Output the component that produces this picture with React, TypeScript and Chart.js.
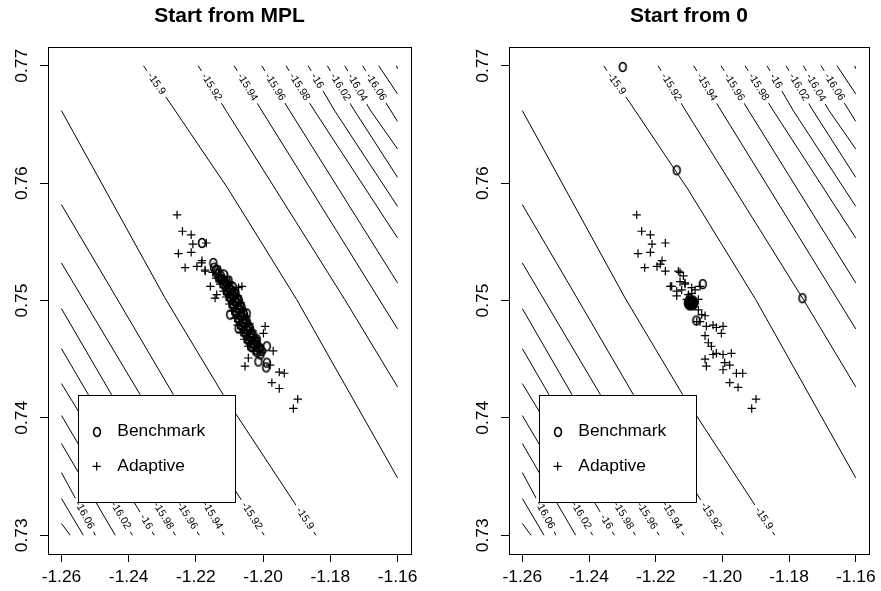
import { useEffect, useRef } from "react";
import { Chart, registerables } from "chart.js";

Chart.register(...registerables);

// ---------------- data ----------------
const panelTitles = ["Start from MPL", "Start from 0"];
const legendLabels = ["Benchmark", "Adaptive"];

const xTickValues = [-1.26, -1.24, -1.22, -1.2, -1.18, -1.16];
const xTickLabels = ["-1.26", "-1.24", "-1.22", "-1.20", "-1.18", "-1.16"];
const yTickValues = [0.73, 0.74, 0.75, 0.76, 0.77];
const yTickLabels = ["0.73", "0.74", "0.75", "0.76", "0.77"];
const xRange = [-1.264, -1.156];
const yRange = [0.7284, 0.7716];

// contour lines: upper-right family (start on top edge)
const upperLevels = ["-15.9", "-15.92", "-15.94", "-15.96", "-15.98", "-16", "-16.02", "-16.04", "-16.06", "-16.08", "-16.1"];
const upperLabeled = [true, true, true, true, true, true, true, true, true, false, false];
const upperPathsX = [
  [-1.2356, -1.2277, -1.2104, -1.19, -1.16],
  [-1.2193, -1.2109, -1.1757, -1.16],
  [-1.2086, -1.2009, -1.16],
  [-1.2004, -1.192, -1.16],
  [-1.1932, -1.1846, -1.16],
  [-1.1866, -1.1786, -1.16],
  [-1.1809, -1.173, -1.16],
  [-1.1757, -1.1682, -1.16],
  [-1.1704, -1.16],
  [-1.1656, -1.16],
  [-1.1603, -1.16],
];
const upperPathsY = [
  [0.77, 0.76683, 0.75951, 0.75008, 0.73489],
  [0.77, 0.76612, 0.75008, 0.74264],
  [0.77, 0.76641, 0.74758],
  [0.77, 0.76612, 0.7515],
  [0.77, 0.76612, 0.75533],
  [0.77, 0.76612, 0.75802],
  [0.77, 0.76626, 0.76049],
  [0.77, 0.76626, 0.76291],
  [0.77, 0.76526],
  [0.77, 0.7676],
  [0.77, 0.76975],
];

// contour lines: lower-left family (start on left edge)
const lowerLevels = ["-15.9", "-15.92", "-15.94", "-15.96", "-15.98", "-16", "-16.02", "-16.04", "-16.06", "-16.08", "-16.1"];
const lowerLabeled = [true, true, true, true, true, true, true, false, true, false, false];
const lowerPathsX = [
  [-1.26, -1.2292, -1.2119, -1.191, -1.1843],
  [-1.26, -1.2436, -1.2267, -1.1997],
  [-1.26, -1.2366, -1.2116],
  [-1.26, -1.2451, -1.219],
  [-1.26, -1.252, -1.2261],
  [-1.26, -1.2324],
  [-1.26, -1.2389],
  [-1.26, -1.244],
  [-1.26, -1.2499],
  [-1.26, -1.2535],
  [-1.26, -1.2574],
];
const lowerPathsY = [
  [0.76618, 0.75022, 0.74198, 0.7329, 0.73],
  [0.75817, 0.75022, 0.74198, 0.73],
  [0.7532, 0.74198, 0.73],
  [0.74931, 0.74198, 0.73],
  [0.7459, 0.74198, 0.73],
  [0.74292, 0.73],
  [0.7402, 0.73],
  [0.73781, 0.73],
  [0.73534, 0.73],
  [0.73313, 0.73],
  [0.731, 0.73],
];

// left panel: Start from MPL
const mplBenchX = [
  -1.2182, -1.2148, -1.2141, -1.1989, -1.2004, -1.2014, -1.1989, -1.1991, -1.2098, -1.2073, -1.2049, -1.2019,
  -1.2146, -1.2136,
  -1.2137, -1.2126, -1.2116,
  -1.2125, -1.2113, -1.2103,
  -1.2112, -1.21, -1.2089,
  -1.2104, -1.2093, -1.2082,
  -1.2095, -1.2083, -1.2072,
  -1.2087, -1.2075, -1.2064,
  -1.2079, -1.2068, -1.2057,
  -1.2071, -1.206, -1.2049,
  -1.2061, -1.205, -1.2039,
  -1.2051, -1.204, -1.2029,
  -1.2041, -1.203, -1.2019,
  -1.2031, -1.202, -1.2009,
  -1.2018, -1.2008,
  -1.2131, -1.212,
  -1.2118, -1.2106,
  -1.2108, -1.2096, -1.2086,
  -1.2099, -1.2088, -1.2077,
  -1.2091, -1.2079, -1.2068,
  -1.2083, -1.2071, -1.206,
  -1.2075, -1.2064, -1.2053,
  -1.2066, -1.2055, -1.2044,
  -1.2056, -1.2045, -1.2034,
  -1.2046, -1.2035, -1.2024,
  -1.2036, -1.2025, -1.2014,
];
const mplBenchY = [
  0.7549, 0.7532, 0.7526, 0.7461, 0.7457, 0.7448, 0.7447, 0.7443, 0.7488, 0.7476, 0.7489, 0.7467,
  0.7528, 0.7526,
  0.7523, 0.7521, 0.7522,
  0.7518, 0.7516, 0.7517,
  0.7512, 0.751, 0.7511,
  0.7507, 0.7505, 0.7506,
  0.7501, 0.7499, 0.75,
  0.7495, 0.7493, 0.7494,
  0.7489, 0.7487, 0.7488,
  0.7483, 0.7481, 0.7482,
  0.7477, 0.7475, 0.7476,
  0.7471, 0.7469, 0.747,
  0.7465, 0.7463, 0.7464,
  0.746, 0.7458, 0.7459,
  0.7456, 0.7454,
  0.7519, 0.7518,
  0.7514, 0.7513,
  0.7508, 0.7509, 0.7507,
  0.7503, 0.7504, 0.7502,
  0.7497, 0.7498, 0.7496,
  0.7491, 0.7492, 0.749,
  0.7485, 0.7486, 0.7484,
  0.7479, 0.748, 0.7478,
  0.7473, 0.7474, 0.7472,
  0.7467, 0.7468, 0.7466,
  0.7461, 0.7462, 0.746,
];
const mplAdaptX = [
  -1.2256, -1.224, -1.2214, -1.2209, -1.2169, -1.2252, -1.2214, -1.2232, -1.2197, -1.2182, -1.2172, -1.2183,
  -1.2173, -1.2157, -1.2143, -1.2138, -1.2073, -1.2063, -1.1994, -1.1999, -1.197, -1.2044, -1.2054, -1.1979,
  -1.1952, -1.1937, -1.1974, -1.1952, -1.1897, -1.191,
  -1.215, -1.2128,
  -1.214, -1.2119, -1.2106,
  -1.2128, -1.2108, -1.2095,
  -1.2118, -1.2098, -1.2084,
  -1.211, -1.2088, -1.2075,
  -1.2101, -1.208, -1.2066,
  -1.2093, -1.2071, -1.2058,
  -1.2085, -1.2063, -1.205,
  -1.2076, -1.2054, -1.204,
  -1.2066, -1.2045, -1.203,
  -1.2056, -1.2035, -1.2021,
  -1.2045, -1.2025, -1.2012,
  -1.203, -1.2003,
  -1.2133,
  -1.2123, -1.21,
  -1.2113, -1.2091,
  -1.2104, -1.2081,
  -1.2096, -1.2072,
  -1.2087, -1.2063,
  -1.2079, -1.2056,
  -1.207, -1.2046,
  -1.2061, -1.2035,
  -1.205, -1.2026,
  -1.204, -1.2017,
];
const mplAdaptY = [
  0.7573, 0.7559, 0.7556, 0.7548, 0.7549, 0.754, 0.7541, 0.7528, 0.7529, 0.7534, 0.7525, 0.7532,
  0.7526, 0.7512, 0.7502, 0.7505, 0.7511, 0.7512, 0.7478, 0.7472, 0.7457, 0.7451, 0.7444, 0.7445,
  0.7439, 0.7438, 0.743, 0.7425, 0.7416, 0.7408,
  0.7524, 0.7526,
  0.7519, 0.7518, 0.752,
  0.7514, 0.7513, 0.7515,
  0.7508, 0.7507, 0.7509,
  0.7503, 0.7502, 0.7504,
  0.7497, 0.7496, 0.7498,
  0.7491, 0.749, 0.7492,
  0.7485, 0.7484, 0.7486,
  0.7479, 0.7478, 0.748,
  0.7473, 0.7472, 0.7474,
  0.7467, 0.7466, 0.7468,
  0.7461, 0.746, 0.7462,
  0.7457, 0.7456,
  0.7522,
  0.7517, 0.7516,
  0.7511, 0.751,
  0.7505, 0.7504,
  0.75, 0.7499,
  0.7494, 0.7493,
  0.7488, 0.7487,
  0.7482, 0.7481,
  0.7476, 0.7475,
  0.747, 0.7469,
  0.7464, 0.7463,
];

// right panel: Start from 0
const zeroBenchX = [
  -1.2299, -1.2137, -1.176, -1.2059, -1.2078,
  -1.2094, -1.2103, -1.2085, -1.2099, -1.2089, -1.2099, -1.2089, -1.2094, -1.2094, -1.2102, -1.2086,
  -1.2102, -1.2086, -1.2097, -1.2091, -1.2097, -1.2091,
];
const zeroBenchY = [
  0.7699, 0.7611, 0.7502, 0.7514, 0.7483,
  0.7498, 0.7498, 0.7498, 0.75, 0.75, 0.7496, 0.7496, 0.75, 0.7496, 0.7499, 0.7499,
  0.7497, 0.7497, 0.7498, 0.7498, 0.7497, 0.7499,
];
const zeroAdaptX = [
  -1.2257, -1.2242, -1.2216, -1.2211, -1.2171, -1.2253, -1.2216, -1.2233, -1.2196, -1.2181, -1.2186, -1.2171,
  -1.2132, -1.2117, -1.2127, -1.2112, -1.2156, -1.2137, -1.2137, -1.2122, -1.2092, -1.2102, -1.2127, -1.2152,
  -1.2112, -1.2082, -1.2067, -1.2092, -1.2072, -1.2062, -1.2052, -1.2077, -1.2067, -1.2048, -1.2028, -1.2018,
  -1.1998, -1.2003, -1.2052, -1.2042, -1.2033, -1.2018, -1.2028, -1.1998, -1.1973, -1.1993, -1.1978, -1.2052,
  -1.2048, -1.1998, -1.1958, -1.1939, -1.1978, -1.1953, -1.1899, -1.1912, -1.2082, -1.2072, -1.2107,
];
const zeroAdaptY = [
  0.7573, 0.7559, 0.7556, 0.7548, 0.7549, 0.754, 0.7541, 0.7528, 0.7529, 0.7534, 0.7531, 0.7525,
  0.7525, 0.7521, 0.7516, 0.7515, 0.7512, 0.7508, 0.7504, 0.7509, 0.7511, 0.7505, 0.7524, 0.7512,
  0.7514, 0.7509, 0.7512, 0.7506, 0.7492, 0.7488, 0.7487, 0.7482, 0.7482, 0.7478, 0.7479, 0.7477,
  0.7478, 0.7472, 0.747, 0.7464, 0.7461, 0.7455, 0.7454, 0.7454, 0.7455, 0.7447, 0.7445, 0.745,
  0.7444, 0.7441, 0.7438, 0.7438, 0.743, 0.7426, 0.7416, 0.7408, 0.7497, 0.7501, 0.7501,
];

// ---------------- styling / layout ----------------
const FONT = '"Liberation Sans", Arial, Helvetica, sans-serif';
const AXIS_FONT = 17.4;
const TITLE_FONT = 21;
const LABEL_FONT = 10.6;
const CANVAS_H = 591;
const panelLayout = [
  { left: 0, width: 440, yAxisWidth: 48, rightPad: 29 },
  { left: 440, width: 441, yAxisWidth: 69, rightPad: 9 },
];
const LEGEND = { dx: 30.3, dy: 348, w: 157.4, h: 107.3, symDx: 48.7, textDx: 69.3, row1: 383.8, row2: 419.3 };
const FIRST_CONTOUR = 2;
const GLYPH_W = 12;
const GLYPH_H = 14;

// "o" plotting character, rendered at 4x and shown at glyph size
function makeOImage(): HTMLImageElement {
  const S = 4;
  const c = document.createElement("canvas");
  c.width = GLYPH_W * S;
  c.height = GLYPH_H * S;
  const g = c.getContext("2d")!;
  g.strokeStyle = "#000";
  g.lineWidth = 1.6 * S;
  g.beginPath();
  g.ellipse((GLYPH_W / 2) * S, (GLYPH_H / 2) * S, 3.4 * S, 4.4 * S, 0, 0, Math.PI * 2);
  g.stroke();
  const img = new Image(GLYPH_W, GLYPH_H);
  img.src = c.toDataURL();
  return img;
}

function drawContourLabels(chart: any) {
  const ctx = chart.ctx;
  const xs = chart.scales.x;
  const ys = chart.scales.y;
  const a = chart.chartArea;
  ctx.save();
  ctx.beginPath();
  ctx.rect(a.left, a.top, a.right - a.left, a.bottom - a.top);
  ctx.clip();
  ctx.font = `${LABEL_FONT}px ${FONT}`;
  const fams = [
    { levels: upperLevels, px: upperPathsX, py: upperPathsY, labeled: upperLabeled, fromStart: true },
    { levels: lowerLevels, px: lowerPathsX, py: lowerPathsY, labeled: lowerLabeled, fromStart: false },
  ];
  for (const f of fams) {
    for (let i = 0; i < f.levels.length; i++) {
      if (!f.labeled[i]) continue;
      const pts = f.px[i].map((x: number, k: number) => [xs.getPixelForValue(x), ys.getPixelForValue(f.py[i][k])]);
      const text = f.levels[i];
      const w = ctx.measureText(text).width;
      const segs: number[] = [];
      let L = 0;
      for (let k = 1; k < pts.length; k++) {
        const d = Math.hypot(pts[k][0] - pts[k - 1][0], pts[k][1] - pts[k - 1][1]);
        segs.push(d);
        L += d;
      }
      let target = f.fromStart ? 10 + w / 2 : L - 8 - w / 2;
      if (target < 0) target = 0;
      let k = 0;
      while (k < segs.length - 1 && target > segs[k]) {
        target -= segs[k];
        k++;
      }
      const p0 = pts[k];
      const p1 = pts[k + 1];
      const t = Math.min(1, target / segs[k]);
      const cx = p0[0] + (p1[0] - p0[0]) * t;
      const cy = p0[1] + (p1[1] - p0[1]) * t;
      const ang = Math.atan2(p1[1] - p0[1], p1[0] - p0[0]);
      ctx.save();
      ctx.translate(cx, cy);
      ctx.rotate(ang);
      ctx.fillStyle = "#fff";
      ctx.fillRect(-w / 2 - 4, -5, w + 8, 10);
      ctx.fillStyle = "#000";
      ctx.textAlign = "center";
      ctx.textBaseline = "middle";
      ctx.fillText(text, 0, 0);
      ctx.restore();
    }
  }
  ctx.restore();
}

function drawLegend(chart: any, oImg: HTMLImageElement) {
  const ctx = chart.ctx;
  const a = chart.chartArea;
  const x0 = a.left + LEGEND.dx;
  const y0 = a.top + LEGEND.dy;
  ctx.save();
  ctx.fillStyle = "#fff";
  ctx.fillRect(x0, y0, LEGEND.w, LEGEND.h);
  ctx.strokeStyle = "#000";
  ctx.lineWidth = 1;
  ctx.strokeRect(Math.round(x0) + 0.5, Math.round(y0) + 0.5, Math.round(LEGEND.w), Math.round(LEGEND.h));
  const sx = a.left + LEGEND.symDx;
  const r1 = a.top + LEGEND.row1;
  const r2 = a.top + LEGEND.row2;
  ctx.drawImage(oImg, Math.round(sx - GLYPH_W / 2), Math.round(r1 - GLYPH_H / 2 + 1), GLYPH_W, GLYPH_H);
  ctx.lineWidth = 1.2;
  ctx.beginPath();
  ctx.moveTo(sx - 4.2, r2);
  ctx.lineTo(sx + 4.2, r2);
  ctx.moveTo(sx, r2 - 4.2);
  ctx.lineTo(sx, r2 + 4.2);
  ctx.stroke();
  ctx.fillStyle = "#000";
  ctx.font = `${AXIS_FONT}px ${FONT}`;
  ctx.textAlign = "left";
  ctx.textBaseline = "middle";
  ctx.fillText(legendLabels[0], a.left + LEGEND.textDx, r1);
  ctx.fillText(legendLabels[1], a.left + LEGEND.textDx, r2);
  ctx.restore();
}

function makeExtras(oImg: HTMLImageElement) {
  return {
    id: "rExtras",
    afterDatasetDraw(chart: any, args: any) {
      if (args.index === FIRST_CONTOUR) drawContourLabels(chart);
    },
    afterDatasetsDraw(chart: any) {
      drawLegend(chart, oImg);
    },
    afterDraw(chart: any) {
      const a = chart.chartArea;
      const ctx = chart.ctx;
      ctx.save();
      ctx.strokeStyle = "#000";
      ctx.lineWidth = 1;
      const l = Math.round(a.left) + 0.5;
      const t = Math.round(a.top) + 0.5;
      const r = Math.round(a.right) + 0.5;
      const b = Math.round(a.bottom) + 0.5;
      ctx.strokeRect(l, t, r - l, b - t);
      ctx.restore();
    },
  };
}

function toPts(xs: number[], ys: number[]) {
  return xs.map((x, i) => ({ x, y: ys[i] }));
}

function makeChart(canvas: HTMLCanvasElement, idx: number, oImg: HTMLImageElement) {
  const lay = panelLayout[idx];
  const bx = idx === 0 ? mplBenchX : zeroBenchX;
  const by = idx === 0 ? mplBenchY : zeroBenchY;
  const ax = idx === 0 ? mplAdaptX : zeroAdaptX;
  const ay = idx === 0 ? mplAdaptY : zeroAdaptY;

  const contourSets: any[] = [];
  const addFam = (px: number[][], py: number[][]) => {
    px.forEach((xs, i) => {
      contourSets.push({
        data: toPts(xs, py[i]),
        showLine: true,
        pointRadius: 0,
        borderColor: "#000",
        borderWidth: 1,
        tension: 0,
        fill: false,
      });
    });
  };
  addFam(upperPathsX, upperPathsY);
  addFam(lowerPathsX, lowerPathsY);

  const datasets: any[] = [
    {
      label: legendLabels[0],
      data: toPts(bx, by),
      pointStyle: oImg,
      pointRadius: 4,
      showLine: false,
    },
    {
      label: legendLabels[1],
      data: toPts(ax, ay),
      pointStyle: "cross",
      pointRadius: 4.2,
      pointBorderWidth: 1.2,
      pointBorderColor: "#000",
      borderColor: "#000",
      showLine: false,
    },
    ...contourSets,
  ];

  return new Chart(canvas, {
    type: "scatter",
    data: { datasets },
    options: {
      responsive: false,
      animation: false,
      events: [],
      layout: { padding: { top: 0, left: 0, bottom: 0, right: lay.rightPad } },
      plugins: {
        legend: { display: false },
        tooltip: { enabled: false },
        title: {
          display: true,
          text: panelTitles[idx],
          color: "#000",
          fullSize: false,
          font: { family: FONT, size: TITLE_FONT, weight: "bold" },
          padding: { top: 4, bottom: 17.8 },
        },
      },
      scales: {
        x: {
          type: "linear",
          min: xRange[0],
          max: xRange[1],
          afterBuildTicks: (s: any) => {
            s.ticks = xTickValues.map((v) => ({ value: v }));
          },
          afterFit: (s: any) => {
            s.height = CANVAS_H - 554;
          },
          border: { display: false },
          grid: { drawOnChartArea: false, drawTicks: true, tickLength: 8, tickColor: "#000", tickWidth: 1 },
          ticks: {
            autoSkip: false,
            maxRotation: 0,
            minRotation: 0,
            padding: 5,
            color: "#000",
            font: { family: FONT, size: AXIS_FONT },
            callback: (_v: any, i: number) => xTickLabels[i],
          },
        },
        y: {
          type: "linear",
          min: yRange[0],
          max: yRange[1],
          afterBuildTicks: (s: any) => {
            s.ticks = yTickValues.map((v) => ({ value: v }));
          },
          afterFit: (s: any) => {
            s.width = lay.yAxisWidth;
          },
          border: { display: false },
          grid: { drawOnChartArea: false, drawTicks: true, tickLength: 8, tickColor: "#000", tickWidth: 1 },
          ticks: {
            autoSkip: false,
            minRotation: 90,
            maxRotation: 90,
            crossAlign: "center",
            padding: 1,
            color: "#000",
            font: { family: FONT, size: AXIS_FONT },
            callback: (_v: any, i: number) => yTickLabels[i],
          },
        },
      },
    },
    plugins: [makeExtras(oImg)],
  } as any);
}

export default function App() {
  const leftRef = useRef<HTMLCanvasElement>(null);
  const rightRef = useRef<HTMLCanvasElement>(null);
  useEffect(() => {
    let charts: Chart[] = [];
    let cancelled = false;
    const oImg = makeOImage();
    const start = () => {
      if (cancelled || charts.length) return;
      charts = [makeChart(leftRef.current!, 0, oImg), makeChart(rightRef.current!, 1, oImg)];
    };
    if (oImg.complete && oImg.naturalWidth > 0) start();
    else {
      oImg.onload = start;
      oImg.onerror = start;
    }
    return () => {
      cancelled = true;
      charts.forEach((c) => c.destroy());
    };
  }, []);
  return (
    <div style={{ position: "absolute", left: 0, top: 0, width: 881, height: CANVAS_H, background: "#fff" }}>
      <canvas
        ref={leftRef}
        width={panelLayout[0].width}
        height={CANVAS_H}
        style={{ position: "absolute", left: panelLayout[0].left, top: 0 }}
      />
      <canvas
        ref={rightRef}
        width={panelLayout[1].width}
        height={CANVAS_H}
        style={{ position: "absolute", left: panelLayout[1].left, top: 0 }}
      />
    </div>
  );
}
